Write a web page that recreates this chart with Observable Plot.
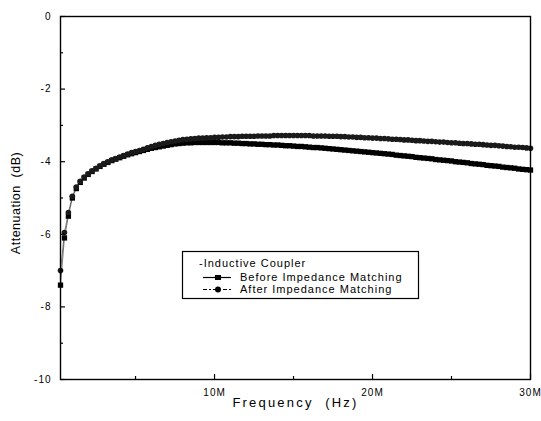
<!DOCTYPE html>
<html>
<head>
<meta charset="utf-8">
<script src="https://cdn.jsdelivr.net/npm/d3@7"></script>
<script src="https://cdn.jsdelivr.net/npm/@observablehq/plot@0.6"></script>
<style>
  html, body { margin: 0; padding: 0; background: #fff; }
  #wrap { position: relative; width: 541px; height: 421px; }
  #legend { position: absolute; left: 0; top: 0; pointer-events: none; }
  #legend text { font-family: "Liberation Sans", Arial, sans-serif; font-size: 11px; letter-spacing: 1px; }
</style>
</head>
<body>
<div id="wrap"></div>
<script>
// Frequency in MHz
const freq = [0.25,0.5,0.75,1,1.25,1.5,1.75,2,2.25,2.5,2.75,3,3.25,3.5,3.75,4,4.25,4.5,4.75,5,
  5.25,5.5,5.75,6,6.25,6.5,6.75,7,7.25,7.5,7.75,8,8.25,8.5,8.75,9,9.25,9.5,9.75,10,
  10.25,10.5,10.75,11,11.25,11.5,11.75,12,12.25,12.5,12.75,13,13.25,13.5,13.75,14,14.25,14.5,14.75,15,
  15.25,15.5,15.75,16,16.25,16.5,16.75,17,17.25,17.5,17.75,18,18.25,18.5,18.75,19,19.25,19.5,19.75,20,
  20.25,20.5,20.75,21,21.25,21.5,21.75,22,22.25,22.5,22.75,23,23.25,23.5,23.75,24,24.25,24.5,24.75,25,
  25.25,25.5,25.75,26,26.25,26.5,26.75,27,27.25,27.5,27.75,28,28.25,28.5,28.75,29,29.25,29.5,29.75,30];

// Attenuation (dB) before impedance matching
const before = [-7.40,-6.10,-5.50,-5.00,-4.74,-4.57,-4.45,-4.35,-4.27,-4.20,-4.13,-4.07,-4.02,-3.97,-3.93,-3.89,-3.85,-3.81,-3.78,-3.75,
  -3.72,-3.69,-3.66,-3.63,-3.61,-3.59,-3.57,-3.55,-3.53,-3.51,-3.50,-3.49,-3.48,-3.48,-3.47,-3.47,-3.47,-3.47,-3.47,-3.47,
  -3.47,-3.48,-3.48,-3.48,-3.49,-3.49,-3.50,-3.50,-3.51,-3.51,-3.52,-3.52,-3.53,-3.53,-3.54,-3.54,-3.55,-3.56,-3.56,-3.57,
  -3.58,-3.58,-3.59,-3.60,-3.61,-3.61,-3.62,-3.63,-3.64,-3.65,-3.66,-3.67,-3.68,-3.69,-3.70,-3.71,-3.72,-3.73,-3.74,-3.75,
  -3.76,-3.77,-3.78,-3.79,-3.80,-3.82,-3.83,-3.84,-3.85,-3.86,-3.88,-3.89,-3.90,-3.91,-3.92,-3.94,-3.95,-3.96,-3.97,-3.98,
  -4.00,-4.01,-4.02,-4.03,-4.05,-4.06,-4.07,-4.08,-4.10,-4.11,-4.12,-4.13,-4.15,-4.16,-4.17,-4.18,-4.20,-4.21,-4.22,-4.23];

// Attenuation (dB) after impedance matching
const after = [-7.00,-5.95,-5.40,-4.95,-4.70,-4.54,-4.42,-4.33,-4.25,-4.18,-4.11,-4.05,-4.00,-3.95,-3.91,-3.87,-3.83,-3.79,-3.75,-3.72,
  -3.69,-3.66,-3.62,-3.58,-3.55,-3.52,-3.50,-3.47,-3.45,-3.43,-3.41,-3.39,-3.38,-3.37,-3.36,-3.35,-3.35,-3.34,-3.34,-3.33,
  -3.33,-3.32,-3.32,-3.31,-3.31,-3.31,-3.30,-3.30,-3.30,-3.30,-3.29,-3.29,-3.29,-3.29,-3.28,-3.28,-3.28,-3.28,-3.28,-3.28,
  -3.28,-3.28,-3.28,-3.28,-3.29,-3.29,-3.29,-3.29,-3.30,-3.30,-3.30,-3.31,-3.31,-3.32,-3.32,-3.33,-3.33,-3.34,-3.34,-3.35,
  -3.35,-3.36,-3.36,-3.37,-3.38,-3.38,-3.39,-3.40,-3.40,-3.41,-3.42,-3.42,-3.43,-3.44,-3.44,-3.45,-3.46,-3.46,-3.47,-3.48,
  -3.48,-3.49,-3.50,-3.50,-3.51,-3.52,-3.52,-3.53,-3.54,-3.55,-3.55,-3.56,-3.57,-3.58,-3.59,-3.60,-3.60,-3.61,-3.62,-3.63];

const xTicks = [10, 20, 30];
const xTickLabels = ["10M", "20M", "30M"];
const xMinor = [5, 15, 25];
const yTicks = [0, -2, -4, -6, -8, -10];
const yMinor = [-1, -3, -5, -7, -9];

const seriesNames = ["Before Impedance Matching", "After Impedance Matching"];
const legendTitle = "-Inductive Coupler";
const xTitle = "Frequency  (Hz)";
const yTitle = "Attenuation  (dB)";

const rowsBefore = freq.map((f, i) => ({f, v: before[i]}));
const rowsAfter = freq.map((f, i) => ({f, v: after[i]}));

const W = 541, H = 421, mL = 60, mR = 11, mT = 16, mB = 42;
const fw = W - mL - mR, fh = H - mT - mB;

const chart = Plot.plot({
  width: W, height: H,
  marginLeft: mL, marginRight: mR, marginTop: mT, marginBottom: mB,
  style: {fontFamily: "'Liberation Sans', Arial, sans-serif", fontSize: "10px", background: "white", color: "black"},
  x: {domain: [0.25, 30]},
  y: {domain: [-10, 0]},
  marks: [
    Plot.line(rowsBefore, {x: "f", y: "v", stroke: "black", strokeWidth: 0.5}),
    Plot.line(rowsAfter, {x: "f", y: "v", stroke: "black", strokeWidth: 0.5}),
    Plot.dot(rowsBefore, {x: "f", y: "v", symbol: "square", r: 3, fill: "black", stroke: "none"}),
    Plot.dot(rowsAfter, {x: "f", y: "v", symbol: "circle", r: 2.8, fill: "#1a1a1a", stroke: "none"}),
    Plot.axisY(yTicks, {tickSize: 0, tickPadding: 9, label: null, fontSize: 10, tickFormat: d => String(d)}),
    Plot.axisX(xTicks, {tickSize: 0, tickPadding: 9, label: null, fontSize: 10, tickFormat: d => xTickLabels[xTicks.indexOf(d)]}),
    // inward ticks
    Plot.tickY(yTicks, {y: d => d, insetRight: fw - 5, stroke: "black", strokeWidth: 1.2}),
    Plot.tickY(yMinor, {y: d => d, insetRight: fw - 3, stroke: "black", strokeWidth: 1.2}),
    Plot.tickX(xTicks, {x: d => d, insetTop: fh - 5, stroke: "black", strokeWidth: 1.2}),
    Plot.tickX(xMinor, {x: d => d, insetTop: fh - 3, stroke: "black", strokeWidth: 1.2}),
    Plot.frame({stroke: "black", strokeWidth: 1.4}),
    Plot.text([xTitle], {frameAnchor: "bottom", dy: 27, text: d => d, fontSize: 13, textAnchor: "middle"}),
    Plot.text([yTitle], {frameAnchor: "left", dx: -45, dy: 5, rotate: -90, text: d => d, fontSize: 12.5, textAnchor: "middle"})
  ]
});

// letter spacing tweaks
d3.select(chart).selectAll("text").each(function() {
  const t = this.textContent;
  if (t === xTitle) this.style.letterSpacing = "2.2px";
  else if (t === yTitle) this.style.letterSpacing = "0.5px";
  else if (xTickLabels.includes(t) || yTicks.map(String).includes(t)) this.style.letterSpacing = "1px";
});

const wrap = document.getElementById("wrap");
wrap.appendChild(chart);

// Legend overlay
const lg = d3.select(wrap).append("svg").attr("id", "legend").attr("width", W).attr("height", H);
lg.append("rect").attr("x", 182.5).attr("y", 251.5).attr("width", 236).attr("height", 47)
  .attr("fill", "white").attr("stroke", "black").attr("stroke-width", 1.2);
lg.append("text").attr("x", 199).attr("y", 267).text(legendTitle);
// Before row
lg.append("line").attr("x1", 203).attr("x2", 231).attr("y1", 277.5).attr("y2", 277.5).attr("stroke", "black").attr("stroke-width", 1.2);
lg.append("rect").attr("x", 215).attr("y", 275).attr("width", 6).attr("height", 5).attr("fill", "black");
lg.append("text").attr("x", 240).attr("y", 281).text(seriesNames[0]);
// After row
lg.append("line").attr("x1", 203).attr("x2", 231).attr("y1", 289.5).attr("y2", 289.5).attr("stroke", "black").attr("stroke-width", 1.2).attr("stroke-dasharray", "4,2,2,2");
lg.append("circle").attr("cx", 218).attr("cy", 289.5).attr("r", 3).attr("fill", "black");
lg.append("text").attr("x", 240).attr("y", 293).text(seriesNames[1]);
</script>
</body>
</html>
